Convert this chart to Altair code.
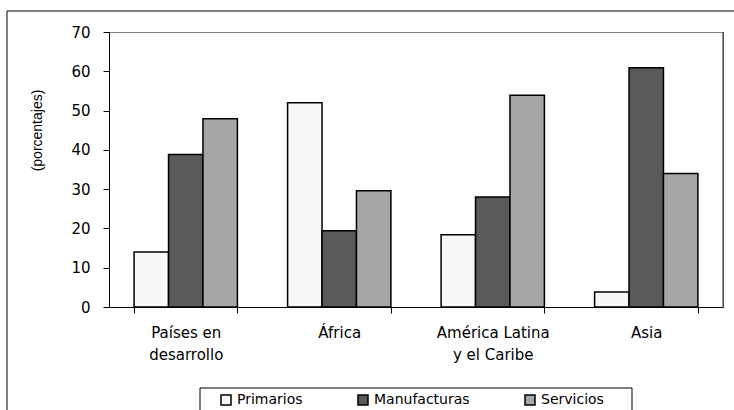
import altair as alt
import pandas as pd

# Export structure by region (percentages)
categories = ["Países en\ndesarrollo", "África", "América Latina\ny el Caribe", "Asia"]
series = ["Primarios", "Manufacturas", "Servicios"]
primarios = [14.0, 52.0, 18.4, 3.8]
manufacturas = [38.8, 19.4, 28.0, 60.9]
servicios = [47.9, 29.6, 53.9, 34.0]
colors = ["#f8f8f8", "#595959", "#a6a6a6"]
y_ticks = [0, 10, 20, 30, 40, 50, 60, 70]

rows = []
for name, vals in zip(series, [primarios, manufacturas, servicios]):
    for region, v in zip(categories, vals):
        rows.append({"region": region, "sector": name, "valor": v})
df = pd.DataFrame(rows)

W, H = 614, 275
LABEL_FONT = "DejaVu Sans"

bars = alt.Chart(df).mark_bar(stroke="black", strokeWidth=1.5).encode(
    x=alt.X(
        "region:N",
        sort=categories,
        scale=alt.Scale(paddingInner=0.327, paddingOuter=0.1635),
        axis=alt.Axis(
            title=None,
            labelAngle=0,
            labelExpr="split(datum.label, '\\n')",
            labelFont=LABEL_FONT,
            labelFontSize=15,
            labelLineHeight=22,
            labelPadding=12,
            tickBand="extent",
            tickSize=6,
        ),
    ),
    xOffset=alt.XOffset("sector:N", sort=series, scale=alt.Scale(paddingInner=0, paddingOuter=0)),
    y=alt.Y(
        "valor:Q",
        scale=alt.Scale(domain=[0, 70], nice=False),
        axis=alt.Axis(
            values=y_ticks,
            grid=False,
            title="(porcentajes)",
            titleFont="Liberation Sans",
            titleFontSize=14,
            titleFontWeight="normal",
            titleColor="black",
            titleAngle=270,
            titleAlign="center",
            titleBaseline="middle",
            titleX=-72,
            titleY=98,
            labelFont=LABEL_FONT,
            labelFontSize=15,
            labelPadding=13,
            tickSize=6,
        ),
    ),
    color=alt.Color(
        "sector:N",
        sort=series,
        scale=alt.Scale(domain=series, range=colors),
        legend=alt.Legend(
            title=None,
            orient="none",
            legendX=110,
            legendY=361,
            direction="horizontal",
            columns=3,
            columnPadding=52,
            padding=0,
            labelFont=LABEL_FONT,
            labelFontSize=14,
            labelColor="black",
            labelOffset=4,
            symbolType="square",
            symbolSize=100,
            symbolStrokeColor="black",
            symbolStrokeWidth=1.5,
            symbolOpacity=1,
        ),
    ),
)

one = alt.Data(values=[{}])

# outer frame of the figure
frame_top = alt.Chart(one).mark_rule(color="black", strokeWidth=1).encode(
    x=alt.value(-102), x2=alt.value(640), y=alt.value(-21)
)
frame_left = alt.Chart(one).mark_rule(color="black", strokeWidth=1).encode(
    x=alt.value(-102), y=alt.value(-21), y2=alt.value(420)
)
# darker right edge of the plot area
plot_right = alt.Chart(one).mark_rule(color="#222222", strokeWidth=1).encode(
    x=alt.value(W), y=alt.value(0), y2=alt.value(H)
)
# box around the legend
legend_box = alt.Chart(one).mark_rect(fill=None, stroke="black", strokeWidth=1).encode(
    x=alt.value(91), x2=alt.value(523), y=alt.value(356), y2=alt.value(420)
)

chart = alt.layer(bars, frame_top, frame_left, plot_right, legend_box).properties(
    width=W,
    height=H,
    autosize=alt.AutoSizeParams(type="none"),
    padding={"left": 109, "top": 32, "right": 11, "bottom": 103},
    background="white",
).configure_view(
    stroke="#808080", strokeWidth=1
).configure_axis(
    domainColor="black",
    tickColor="black",
    labelColor="black",
    domainWidth=1,
    tickWidth=1,
)

chart.save("out.html", embed_options={"renderer": "svg", "actions": False})
